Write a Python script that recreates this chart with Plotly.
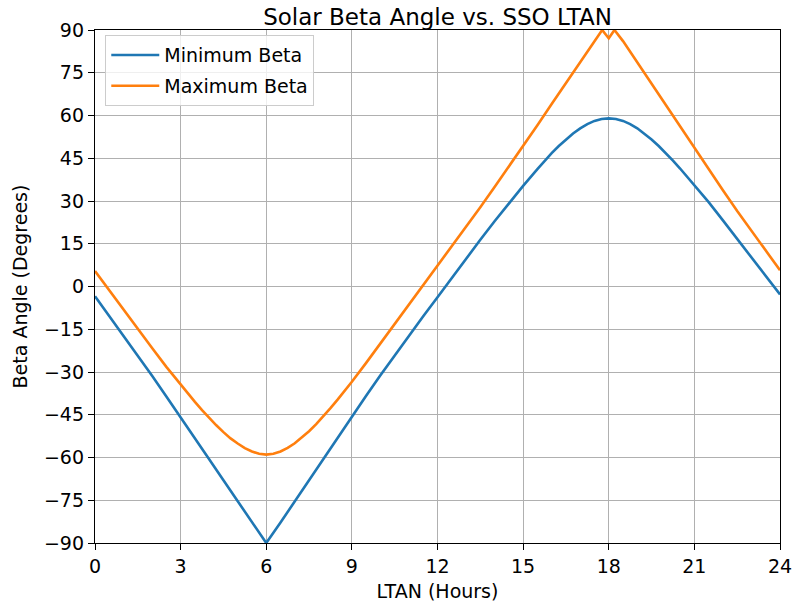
import plotly.graph_objects as go

# Yearly extremes of the solar beta angle for a sun-synchronous orbit,
# sampled against the local time of the ascending node (hours).
ltan_min = [0, 0.5, 1, 1.5, 2, 2.5, 3, 3.5, 4, 4.5, 5, 5.5, 6, 6.5, 7, 7.5, 8,
            8.5, 9, 9.5, 10, 10.5, 11, 11.5, 12, 12.5, 13, 13.5, 14, 14.5, 15,
            15.5, 15.75, 16, 16.25, 16.5, 16.75, 17, 17.25, 17.5, 17.75, 18,
            18.25, 18.5, 18.75, 19, 19.25, 19.5, 19.75, 20, 20.25, 20.5, 21,
            21.5, 22, 22.5, 23, 23.5, 24]
beta_min = [-3.4, -10.3, -17.2, -24.2, -31.3, -38.6, -45.8, -53.2, -60.6,
            -68.0, -75.4, -82.8, -90.0, -82.8, -75.4, -68.0, -60.6, -53.1,
            -45.4, -38.3, -31.1, -24.1, -17.2, -10.4, -3.8, 3.0, 9.8, 16.4,
            22.9, 29.3, 35.3, 41.2, 44.1, 46.8, 49.3, 51.6, 53.7, 55.5, 57.0,
            58.1, 58.8, 59.0, 58.8, 58.1, 57.0, 55.5, 53.7, 51.6, 49.3, 46.9,
            44.2, 41.4, 35.5, 29.6, 23.2, 16.7, 10.1, 3.4, -2.8]

ltan_max = [0, 0.5, 1, 1.5, 2, 2.5, 3, 3.25, 3.5, 3.75, 4, 4.25, 4.5, 4.75, 5,
            5.25, 5.5, 5.75, 6, 6.25, 6.5, 6.75, 7, 7.25, 7.5, 7.75, 8, 8.25,
            8.5, 8.75, 9, 9.5, 10, 10.5, 11, 11.5, 12, 12.5, 13, 13.5, 14,
            14.5, 15, 15.5, 16, 16.5, 17, 17.5, 17.77, 18, 18.2, 18.5, 19,
            19.5, 20, 20.5, 21, 21.5, 22, 22.5, 23, 23.5, 24]
beta_max = [5.4, -1.4, -8.3, -15.0, -21.6, -28.2, -34.5, -37.5, -40.5, -43.4,
            -46.1, -48.7, -51.1, -53.3, -55.1, -56.7, -57.9, -58.7, -59.0,
            -58.7, -57.9, -56.6, -55.0, -53.0, -50.8, -48.3, -45.6, -42.7,
            -39.7, -36.6, -33.4, -26.8, -20.0, -13.1, -6.2, 0.7, 7.4, 14.2,
            21.0, 27.8, 34.9, 42.0, 49.4, 56.6, 64.0, 71.3, 78.8, 86.3, 90.0,
            87.1, 90.0, 86.1, 78.6, 71.0, 63.5, 56.0, 48.7, 41.1, 33.8, 26.5,
            19.5, 12.5, 5.7]

x_ticks = [0, 3, 6, 9, 12, 15, 18, 21, 24]
y_ticks = [-90, -75, -60, -45, -30, -15, 0, 15, 30, 45, 60, 75, 90]

FONT = "DejaVu Sans"
TXT = 19

fig = go.Figure()
fig.add_trace(go.Scatter(x=ltan_min, y=beta_min, mode="lines",
                         name="Minimum Beta", legendgroup="a",
                         line=dict(color="#1f77b4", width=2.6)))
fig.add_trace(go.Scatter(x=ltan_max, y=beta_max, mode="lines",
                         name="Maximum Beta", legendgroup="b",
                         line=dict(color="#ff7f0e", width=2.6)))

axis_common = dict(
    showline=True, linecolor="black", linewidth=1.4, mirror=True,
    ticks="outside", ticklen=6, tickwidth=1.4, tickcolor="black",
    showgrid=True, gridcolor="#b0b0b0", gridwidth=1.4,
    zeroline=False, automargin=False,
    tickfont=dict(family=FONT, size=TXT, color="black"),
)

fig.update_xaxes(range=[0, 24], tickvals=x_ticks,
                 title=dict(text="LTAN (Hours)", standoff=8,
                            font=dict(family=FONT, size=TXT, color="black")),
                 **axis_common)
fig.update_yaxes(range=[-90, 90], tickvals=y_ticks,
                 title=dict(text="Beta Angle (Degrees)", standoff=11,
                            font=dict(family=FONT, size=TXT, color="black")),
                 **axis_common)

fig.update_layout(
    width=793, height=609,
    margin=dict(l=95, r=13, t=30, b=66, autoexpand=False),
    paper_bgcolor="white", plot_bgcolor="white",
    font=dict(family=FONT, size=TXT, color="black"),
    title=dict(text="Solar Beta Angle vs. SSO LTAN", x=0.5, xref="paper",
               xanchor="center", y=1, yref="paper", yanchor="bottom",
               pad=dict(b=5), font=dict(family=FONT, size=23, color="black")),
    legend=dict(x=0.015, y=0.99, xanchor="left", yanchor="top",
                bgcolor="rgba(255,255,255,0.8)", bordercolor="#cccccc",
                borderwidth=1, tracegroupgap=3, itemwidth=48,
                font=dict(family=FONT, size=TXT, color="black")),
    showlegend=True,
)

fig.write_html("out.html")
